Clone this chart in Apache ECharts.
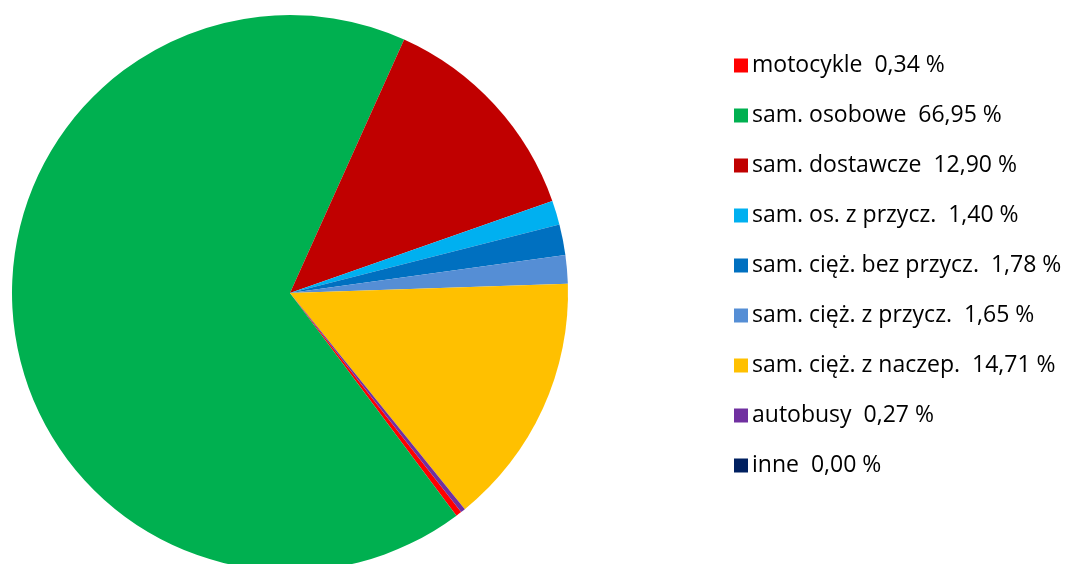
<!DOCTYPE html>
<html>
<head>
<meta charset="UTF-8">
<script src="https://cdn.jsdelivr.net/npm/echarts@6/dist/echarts.min.js"></script>
<style>html,body{margin:0;background:#fff}#c{width:1086px;height:564px}</style>
</head>
<body>
<div id="c"></div>
<script>
var names = ['motocykle', 'sam. osobowe', 'sam. dostawcze', 'sam. os. z przycz.', 'sam. cięż. bez przycz.',
  'sam. cięż. z przycz.', 'sam. cięż. z naczep.', 'autobusy', 'inne'];
var values = [0.34, 66.95, 12.90, 1.40, 1.78, 1.65, 14.71, 0.27, 0.00];
var colors = ['#FF0000', '#00B050', '#C00000', '#00B0F0', '#0070C0', '#558ED5', '#FFC000', '#7030A0', '#002060'];

var data = names.map(function (n, i) { return { name: n, value: values[i] }; });
var chart = echarts.init(document.getElementById('c'));
chart.setOption({
  animation: false,
  color: colors,
  legend: {
    orient: 'vertical', left: 729, top: 49,
    icon: 'rect', itemWidth: 14, itemHeight: 14, itemGap: 27,
    textStyle: { fontSize: 23, color: '#000', fontFamily: 'Open Sans', padding: [0, 0, 0, -1] },
    formatter: function (n) {
      var i = names.indexOf(n);
      return n + '  ' + values[i].toFixed(2).replace('.', ',') + ' %';
    }
  },
  series: [{
    type: 'pie', center: [290, 293], radius: 278,
    startAngle: -52, clockwise: true, minAngle: 0,
    label: { show: false }, labelLine: { show: false },
    itemStyle: { borderWidth: 0 },
    data: data
  }]
});
</script>
</body>
</html>
